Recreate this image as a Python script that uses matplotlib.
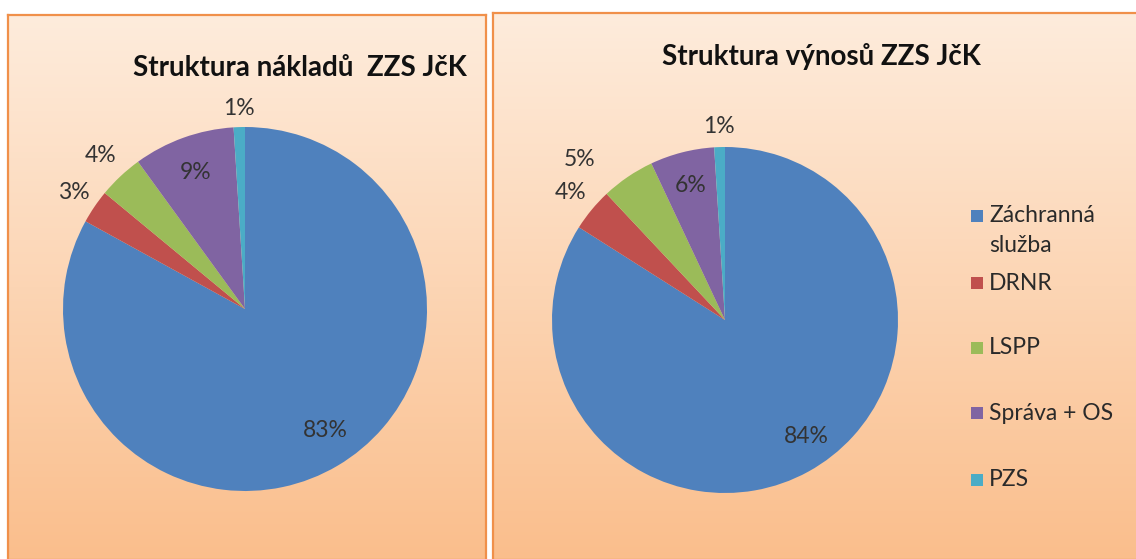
import numpy as np
import matplotlib
matplotlib.use("Agg")
import matplotlib.pyplot as plt
from matplotlib.patches import Rectangle

plt.rcParams['font.family'] = ['Lato', 'DejaVu Sans']

# ---- data ----
categories = ["Záchranná\nslužba", "DRNR", "LSPP", "Správa + OS", "PZS"]
costs_pct = [83, 3, 4, 9, 1]
revenue_pct = [84, 4, 5, 6, 1]
title_costs = "Struktura nákladů  ZZS JčK"
title_revenue = "Struktura výnosů ZZS JčK"
colors = ["#4F81BD", "#C0504D", "#9BBB59", "#8064A2", "#4BACC6"]

W, H = 1136, 559
fig = plt.figure(figsize=(W / 100, H / 100), dpi=100)
fig.patch.set_facecolor("white")


def fx(px):
    return px / W


def fy(py):
    return 1 - py / H


def panel(x0, y0, x1, y1):
    ax = fig.add_axes([fx(x0), fy(y1), fx(x1 - x0), (y1 - y0) / H])
    top = np.array([254, 236, 220]) / 255
    bot = np.array([250, 190, 140]) / 255
    t = np.linspace(0, 1, 256)[:, None]
    grad = top[None, :] * (1 - t) + bot[None, :] * t
    img = np.repeat(grad[:, None, :], 2, axis=1)
    ax.imshow(img, aspect="auto", extent=[0, 1, 0, 1], origin="upper")
    ax.set_xlim(0, 1)
    ax.set_ylim(0, 1)
    ax.set_xticks([])
    ax.set_yticks([])
    for s in ax.spines.values():
        s.set_color("#F0904A")
        s.set_linewidth(1.6)
    return ax


panel(8, 15, 486, 560)
panel(493, 13, 1137, 560)

label_size = 16.5


def draw_pie(values, cx, cy, r, factors, nudges):
    ax = fig.add_axes([fx(cx - r), fy(cy + r), 2 * r / W, 2 * r / H])
    ax.set_facecolor("none")
    wedges, _ = ax.pie(values, colors=colors, startangle=90, counterclock=False,
                       radius=1, wedgeprops=dict(edgecolor="none"))
    ax.set_xlim(-1, 1)
    ax.set_ylim(-1, 1)
    ax.set_aspect("equal")
    ax.axis("off")
    for w, v, f, n in zip(wedges, values, factors, nudges):
        a = np.deg2rad((w.theta1 + w.theta2) / 2 + n)
        ax.text(f * np.cos(a), f * np.sin(a), f"{v}%", ha="center", va="center",
                fontsize=label_size, color="#333333", clip_on=False)
    return ax


draw_pie(costs_pct, 245, 309, 182, [0.80, 1.14, 1.16, 0.80, 1.10], [3, 0, 0, 0, 0])
draw_pie(revenue_pct, 725, 320, 173, [0.82, 1.16, 1.25, 0.80, 1.12], [6, 0, 8, 0, 0])

fig.text(fx(300), fy(68), title_costs, ha="center", va="center",
         fontsize=20, fontweight="bold", color="#111111")
fig.text(fx(821), fy(57), title_revenue, ha="center", va="center",
         fontsize=20, fontweight="bold", color="#111111")

# legend (drawn manually to mimic Excel spacing)
legend_y = [216, 283, 348, 413, 480]
line_gap = 30
for lab, col, y in zip(categories, colors, legend_y):
    fig.patches.append(Rectangle((fx(971), fy(y + 6)), 12 / W, 12 / H,
                                 transform=fig.transFigure, facecolor=col,
                                 edgecolor="none"))
    for i, line in enumerate(lab.split("\n")):
        fig.text(fx(989), fy(y + i * line_gap), line, ha="left", va="center",
                 fontsize=16.5, color="#2a2a2a")

fig.savefig("out.png", dpi=100)
